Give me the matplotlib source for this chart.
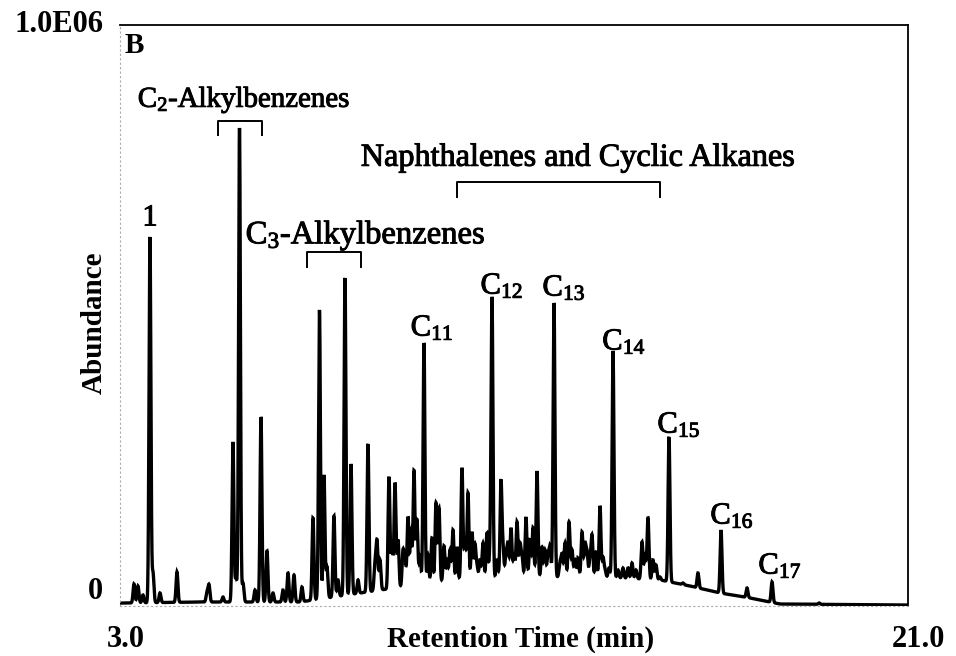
import numpy as np
import matplotlib
matplotlib.use("Agg")
import matplotlib.pyplot as plt
import matplotlib.patheffects as pe
from matplotlib.transforms import ScaledTranslation

plt.rcParams['font.family'] = ['Liberation Serif', 'DejaVu Serif']
plt.rcParams['mathtext.fontset'] = 'custom'
plt.rcParams['mathtext.rm'] = 'Liberation Serif'
plt.rcParams['mathtext.it'] = 'Liberation Serif:italic'
plt.rcParams['mathtext.bf'] = 'Liberation Serif:bold'

# ---- data (retention time in min, abundance in counts) ----
peak_times = [
    3.320, 3.411, 3.525, 3.685, 3.754, 3.914, 4.302, 4.987, 5.033, 5.353,
    5.581, 5.650, 5.730, 5.810, 6.084, 6.221, 6.358, 6.495, 6.723, 6.838,
    6.975, 7.157, 7.409, 7.557, 7.660, 7.728, 7.888, 7.980, 8.140, 8.277,
    8.437, 8.665, 8.825, 8.871, 9.145, 9.282, 9.351, 9.465, 9.579, 9.716,
    9.784, 9.944, 10.127, 10.218, 10.287, 10.401, 10.607, 10.698, 10.812, 10.949,
    11.041, 11.155, 11.292, 11.383, 11.498, 11.703, 11.749, 11.932, 12.069, 12.183,
    12.274, 12.434, 12.526, 12.640, 12.823, 12.914, 13.051, 13.165, 13.257, 13.394,
    13.554, 13.668, 13.782, 13.874, 13.965, 14.079, 14.262, 14.490, 14.696, 14.924,
    15.061, 15.175, 15.335, 15.541, 15.861, 16.203, 16.729, 17.323, 17.894, 18.968,
]
peak_heights = [
    37900, 34400, 18900, 635000, 56800, 22400, 58500, 22400, 36100, 15500,
    282300, 48200, 822700, 39600, 27500, 325300, 94700, 22400, 27500, 56800,
    53400, 32700, 151500, 509500, 225500, 67100, 155000, 44800, 564600, 244400,
    44800, 278800, 70600, 110200, 222000, 211700, 113600, 92900, 153200, 232400,
    148000, 452700, 117000, 177300, 168700, 103300, 130800, 101600, 237500, 194500,
    127400, 67100, 108400, 125600, 528400, 213400, 96400, 134300, 144600, 84300,
    153200, 134300, 232400, 101600, 99800, 521500, 74000, 108400, 144600, 79200,
    127400, 91200, 120500, 92900, 172100, 62000, 438900, 65400, 74000, 110200,
    151500, 79200, 49900, 290900, 39600, 56800, 130800, 31000, 41300, 5200,
]
# unresolved minor peaks forming the dense hump
minor_times = [8.939, 9.213, 9.510, 9.647, 9.853, 10.036, 10.470, 10.538, 10.881, 11.109,
               11.224, 11.452, 11.612, 11.818, 11.863, 12.000, 12.137, 12.366, 12.708, 12.777,
               13.097, 13.325, 13.462, 13.622, 13.736, 14.033, 14.170, 14.376, 14.604, 14.787,
               14.993, 15.244]
minor_heights = [79200, 105000, 79200, 130800, 87800, 87800, 79200, 96400, 113600, 105000,
                 79200, 87800, 79200, 87800, 105000, 87800, 105000, 113600, 96400, 87800,
                 87800, 96400, 82600, 105000, 79200, 82600, 65400, 62000, 65400, 62000,
                 87800, 70600]
base_times = [3.0, 4.83, 7.11, 8.03, 8.94, 9.85, 10.77, 11.68, 12.59, 13.51,
              14.42, 15.34, 16.02, 16.71, 17.39, 18.08, 21.0]
base_levels = [5000, 6900, 6900, 17200, 27500, 36100, 44800, 48200, 49900, 49900,
               48200, 44800, 34400, 22400, 13800, 3400, 1700]

peak_labels = ['1', r'$\mathregular{C_{11}}$', r'$\mathregular{C_{12}}$', r'$\mathregular{C_{13}}$',
               r'$\mathregular{C_{14}}$', r'$\mathregular{C_{15}}$', r'$\mathregular{C_{16}}$',
               r'$\mathregular{C_{17}}$']
group_labels = [r'$\mathregular{C_2}$-Alkylbenzenes', r'$\mathregular{C_3}$-Alkylbenzenes',
                'Naphthalenes and Cyclic Alkanes']

# ---- build trace ----
t = np.linspace(3.0, 21.0, 12001)
trace = np.interp(t, base_times, base_levels)
sigma = 0.021
for pt, ph in zip(peak_times + minor_times, peak_heights + minor_heights):
    amp = ph - np.interp(pt, base_times, base_levels)
    trace += amp * np.exp(-0.5 * ((t - pt) / sigma) ** 2)

fig = plt.figure(figsize=(9.56, 6.56), dpi=100)
ax = fig.add_axes([0.1255, 0.0762, 0.9498 - 0.1255, 0.9619 - 0.0762])
ax.plot(t, trace, color='black', lw=2.4, solid_joinstyle='miter')
ax.set_xlim(3.0, 21.0)
ax.set_ylim(0, 1.0e6)

for s in ['top', 'right']:
    ax.spines[s].set_linewidth(1.3)
    ax.spines[s].set_color('black')
for s in ['left', 'bottom']:
    ax.spines[s].set_linewidth(0.8)
    ax.spines[s].set_color('#aaaaaa')
    ax.spines[s].set_linestyle((0, (1, 3)))

heavy = [pe.withStroke(linewidth=0.7, foreground='black')]

ax.set_xticks([3.0, 21.0])
ax.set_xticklabels(['3.0', '21.0'], fontsize=22, fontweight='bold')
ax.set_yticks([0, 1.0e6])
ax.set_yticklabels(['0', '1.0E06'], fontsize=22, fontweight='bold')
ax.tick_params(length=0)
ax.tick_params(axis='x', pad=14)
ax.tick_params(axis='y', pad=12)
ylabs = ax.get_yticklabels()
ylabs[0].set_verticalalignment('bottom')
ylabs[1].set_verticalalignment('center')
xlabs = ax.get_xticklabels()
for lab, dx in zip(xlabs, [6, 10]):
    lab.set_transform(lab.get_transform() + ScaledTranslation(dx / 100, 0, fig.dpi_scale_trans))

ax.set_xlabel('Retention Time (min)', fontsize=21, fontweight='bold')
ax.xaxis.set_label_coords(0.508, -0.058)
ax.xaxis.label.set_verticalalignment('center')
ax.set_ylabel('Abundance', fontsize=21, fontweight='bold')
ax.yaxis.set_label_coords(-0.015, 0.487)

ax.text(3.1, 0.965e6, 'B', fontsize=21, fontweight='bold', ha='left', va='center')

# peak labels
label_pos = [(3.685, 667800), (10.127, 478400), (11.726, 550700), (13.142, 547300),
             (14.513, 454400), (15.769, 311500), (16.980, 154900), (18.077, 68800)]
for lab, (x, y) in zip(peak_labels, label_pos):
    ax.text(x, y, lab, fontsize=22, ha='center', va='center', path_effects=heavy)

# group labels and brackets
ax.text(5.833, 870900, group_labels[0], fontsize=20.8, ha='center', va='center', path_effects=heavy)
ax.text(8.611, 638500, group_labels[1], fontsize=23.5, ha='center', va='center', path_effects=heavy)
ax.text(13.462, 771000, group_labels[2], fontsize=23.2, ha='center', va='center', path_effects=heavy)

brackets = [(5.239, 6.244, 834700, 810600), (7.272, 8.505, 609300, 583500),
            (10.698, 15.335, 729700, 703900)]
for x0, x1, ytop, ybot in brackets:
    ax.plot([x0, x0, x1, x1], [ybot, ytop, ytop, ybot], color='black', lw=1.4)

fig.savefig('out.png', dpi=100)
